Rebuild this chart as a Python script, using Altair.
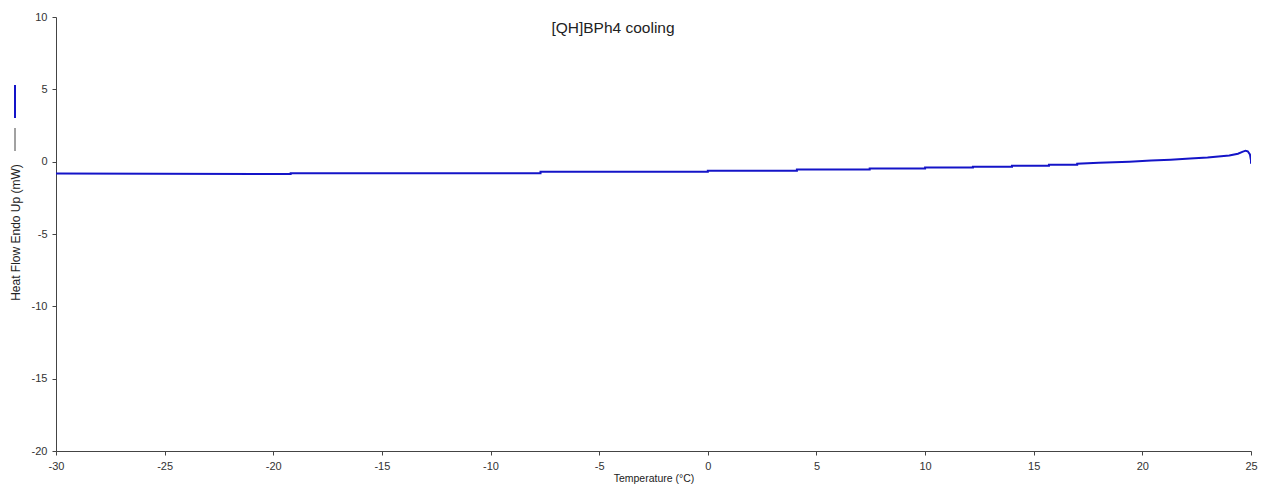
import altair as alt
import pandas as pd

# DSC cooling trace, in sampling order (25 °C down to -30 °C)
temperature = [25.0, 25.0, 24.95, 24.85, 24.75, 24.6, 24.4, 24.0, 23.5, 23.0,
               22.2, 21.3, 20.4, 19.4, 18.0, 17.0, 17.0, 15.7, 15.7, 14.0,
               14.0, 12.2, 12.2, 10.0, 10.0, 7.45, 7.45, 4.1, 4.1, 0.0,
               0.0, -7.7, -7.7, -19.2, -19.2, -30.0]
heat_flow = [-0.15, 0.10, 0.50, 0.72, 0.76, 0.68, 0.55, 0.42, 0.35, 0.28,
             0.22, 0.14, 0.08, 0.00, -0.08, -0.14, -0.21, -0.21, -0.28, -0.28,
             -0.35, -0.35, -0.41, -0.41, -0.48, -0.48, -0.55, -0.55, -0.62, -0.62,
             -0.69, -0.69, -0.80, -0.80, -0.86, -0.81]

x_ticks = [-30, -25, -20, -15, -10, -5, 0, 5, 10, 15, 20, 25]
y_ticks = [-20, -15, -10, -5, 0, 5, 10]

df = pd.DataFrame({"t": temperature, "hf": heat_flow, "i": list(range(len(temperature)))})

FONT = "Liberation Sans"
axis_common = dict(grid=False, domainColor="#444444", tickColor="#444444",
                   tickSize=4, labelFont=FONT, labelFontSize=11, labelColor="#333333",
                   labelExpr="datum.value + ''",
                   titleFont=FONT, titleColor="#222222", titleFontWeight="normal")

line = alt.Chart(df).mark_line(color="#1414C8", strokeWidth=2, clip=True).encode(
    x=alt.X("t:Q", scale=alt.Scale(domain=[-30, 25], nice=False, zero=False),
            axis=alt.Axis(values=x_ticks, title="Temperature (°C)", labelPadding=5,
                          titlePadding=2, titleFontSize=10.5, labelFlush=False, **axis_common)),
    y=alt.Y("hf:Q", scale=alt.Scale(domain=[-20, 10], nice=False, zero=False),
            axis=alt.Axis(values=y_ticks, title="Heat Flow Endo Up (mW)", labelPadding=5,
                          titleX=-41, titleY=215, titleAngle=270, titleAlign="center",
                          titleBaseline="middle", titleFontSize=12, labelFlush=False,
                          **axis_common)),
    order="i:Q",
)

title = alt.Chart(pd.DataFrame({"s": ["[QH]BPh4 cooling"]})).mark_text(
    font=FONT, fontSize=15.5, color="#222222", align="center", baseline="middle"
).encode(x=alt.value(557), y=alt.value(11), text="s:N")

legend_blue = alt.Chart(pd.DataFrame({"a": [0]})).mark_rule(color="#1414C8", strokeWidth=2).encode(
    x=alt.value(-41), y=alt.value(68), y2=alt.value(101))
legend_gray = alt.Chart(pd.DataFrame({"a": [0]})).mark_rule(color="#444444", strokeWidth=1).encode(
    x=alt.value(-41), y=alt.value(111), y2=alt.value(134))

chart = alt.layer(line, title, legend_blue, legend_gray).properties(
    width=1195, height=434,
    autosize=alt.AutoSizeParams(type="none"),
    padding={"left": 56, "top": 17, "right": 13, "bottom": 37},
    background="white",
).configure_view(stroke=None)

chart.save("out.html", embed_options={"renderer": "svg", "actions": False})
